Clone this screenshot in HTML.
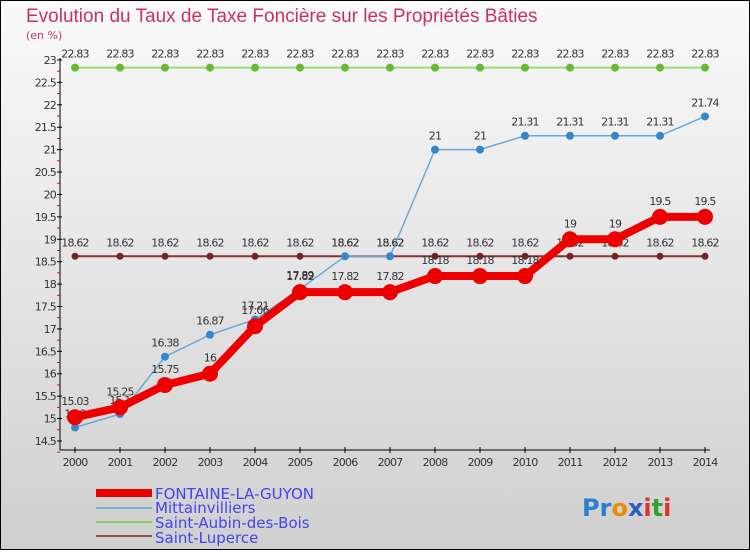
<!DOCTYPE html>
<html><head><meta charset="utf-8"><style>
body{margin:0}
#c{width:750px;height:550px;position:relative;font-family:"DejaVu Sans","Liberation Sans",sans-serif;}
</style></head><body>
<div id="c">
<svg id="s" width="750" height="550" xmlns="http://www.w3.org/2000/svg">
<defs><linearGradient id="bg" x1="0" y1="0" x2="0" y2="1"><stop offset="0" stop-color="#fafafa"/><stop offset="1" stop-color="#cfcfcf"/></linearGradient></defs>
<rect x="0.5" y="0.5" width="749" height="549" fill="url(#bg)" stroke="#000"/>
<text x="26" y="22" font-size="19" fill="#c8306a" font-family="Liberation Sans, sans-serif">Evolution du Taux de Taxe Foncière sur les Propriétés Bâties</text>
<text x="26" y="39" font-size="11" fill="#c8306a">(en %)</text>
<g id="axes"></g><g id="series"></g>
<g font-size="15" fill="#4444ee">
<rect x="96" y="489" width="56" height="8" fill="#ee0000"/>
<text x="155" y="499">FONTAINE-LA-GUYON</text>
<rect x="96" y="507" width="56" height="2" fill="#7aaed0"/>
<text x="155" y="513">Mittainvilliers</text>
<rect x="96" y="521" width="56" height="2" fill="#88cc66"/>
<text x="155" y="528">Saint-Aubin-des-Bois</text>
<rect x="96" y="535" width="56" height="2" fill="#885555"/>
<text x="155" y="543">Saint-Luperce</text>
</g>
<text x="582" y="516" font-size="24" font-weight="bold"><tspan fill="#2a7fd0">Pr</tspan><tspan fill="#f08a00">o</tspan><tspan fill="#2a5fc0">x</tspan><tspan fill="#e03030">i</tspan><tspan fill="#30a030">t</tspan><tspan fill="#e03030">i</tspan></text>
</svg></div>
<script>
const years=[2000,2001,2002,2003,2004,2005,2006,2007,2008,2009,2010,2011,2012,2013,2014];
const fontaine=[15.03,15.25,15.75,16,17.06,17.82,17.82,17.82,18.18,18.18,18.18,19,19,19.5,19.5];
const mittain=[14.8,15.1,16.38,16.87,17.21,17.89,18.62,18.62,21,21,21.31,21.31,21.31,21.31,21.74];
const aubin=[22.83,22.83,22.83,22.83,22.83,22.83,22.83,22.83,22.83,22.83,22.83,22.83,22.83,22.83,22.83];
const luperce=[18.62,18.62,18.62,18.62,18.62,18.62,18.62,18.62,18.62,18.62,18.62,18.62,18.62,18.62,18.62];
const yTicks=[14.5,15,15.5,16,16.5,17,17.5,18,18.5,19,19.5,20,20.5,21,21.5,22,22.5,23];
const NS="http://www.w3.org/2000/svg";
const xS=i=>75+i*45;
const yS=v=>60+(23-v)*44.82;
function mk(t,a,p){const e=document.createElementNS(NS,t);for(const k in a)e.setAttribute(k,a[k]);p.appendChild(e);return e;}
const ax=document.getElementById('axes'),sr=document.getElementById('series');
mk('line',{x1:60,y1:58,x2:60,y2:450,stroke:'#000'},ax);
mk('line',{x1:60,y1:450,x2:710,y2:450,stroke:'#000'},ax);
yTicks.forEach(v=>{
 const y=yS(v);
 mk('line',{x1:57,y1:y,x2:62,y2:y,stroke:'#000'},ax);
 mk('line',{x1:57,y1:y+11.2,x2:60,y2:y+11.2,stroke:'#e00'},ax);
 const t=mk('text',{x:56,y:y+4,'font-size':11,fill:'#333','text-anchor':'end','letter-spacing':'-0.8'},ax);
 t.textContent=String(v);
 
 
});
years.forEach((yr,i)=>{
 mk('line',{x1:xS(i),y1:447,x2:xS(i),y2:453,stroke:'#000'},ax);
 const t=mk('text',{x:xS(i),y:466,'font-size':11,fill:'#333','text-anchor':'middle','letter-spacing':'-0.8'},ax);
 t.textContent=yr;
 
 
});
function series(data,name,color,w,r,dot,lblOff){
 const g=mk('g',{},sr);
 
 
 mk('polyline',{points:data.map((v,i)=>xS(i)+','+yS(v)).join(' '),fill:'none',stroke:color,'stroke-width':w,'stroke-linejoin':'round'},g);
 data.forEach((v,i)=>{
  const c=mk('circle',{cx:xS(i),cy:yS(v),r:r,fill:dot},g);
  
  
  const t=mk('text',{x:xS(i),y:yS(v)+lblOff,'font-size':11,fill:'#333','text-anchor':'middle','letter-spacing':'-0.8'},g);
  t.textContent=String(v);
  
  
 });
}
series(aubin,'saint-aubin-series','#99dd77',2,4,'#66bb33',-10);
series(luperce,'saint-luperce-series','#883333',2,3.5,'#772222',-10);
series(mittain,'mittainvilliers-series','#6aa8d8',1.5,4,'#3388cc',-10);
series(fontaine,'fontaine-series','#ee0000',8,8,'#ee0000',-12);
</script>
</body></html>
